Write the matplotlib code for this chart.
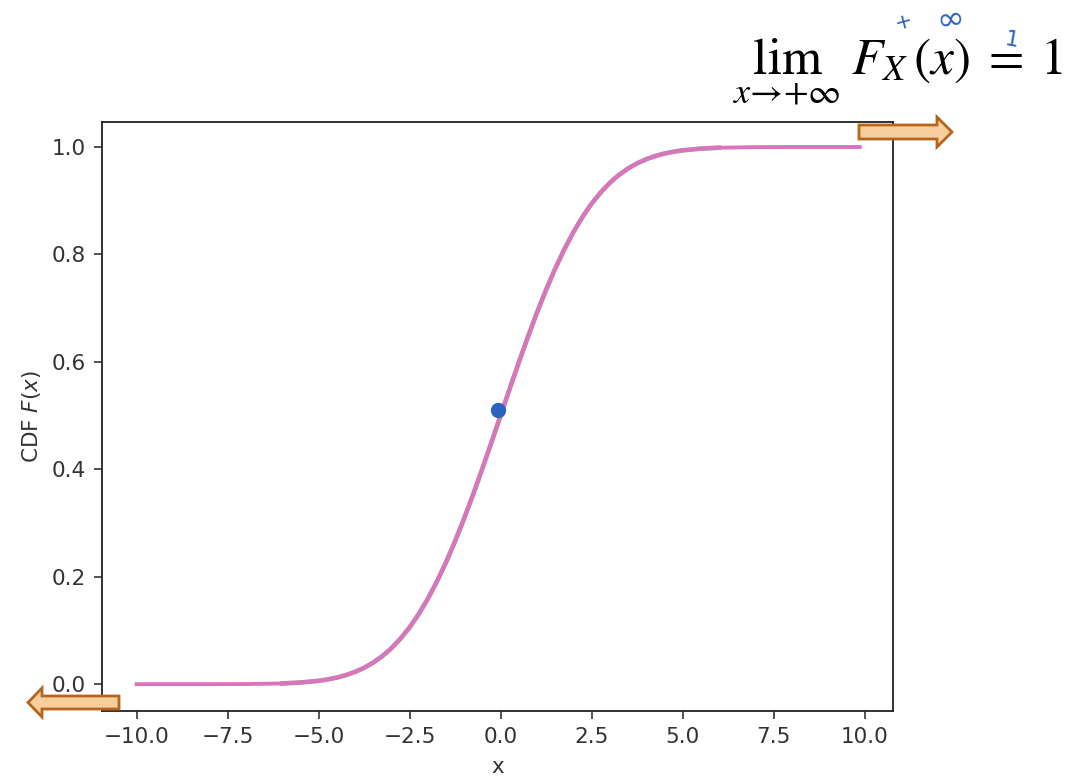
import matplotlib
matplotlib.use("Agg")
import matplotlib.pyplot as plt
from matplotlib.patches import FancyArrow

# CDF values
x_vals = [-10, -9, -8, -7, -6, -5.5, -5, -4.75, -4.5, -4.25, -4, -3.75, -3.5,
          -3.25, -3, -2.75, -2.5, -2.25, -2, -1.75, -1.5, -1.25, -1, -0.75,
          -0.5, -0.25, 0, 0.25, 0.5, 0.75, 1, 1.25, 1.5, 1.75, 2, 2.25, 2.5,
          2.75, 3, 3.25, 3.5, 3.75, 4, 4.25, 4.5, 4.75, 5, 5.5, 6, 7, 8, 9, 9.87]
cdf_vals = [0, 0, 0, 0.0002, 0.0013, 0.003, 0.0062, 0.0088, 0.0122, 0.0168,
            0.0228, 0.0304, 0.0401, 0.0521, 0.0668, 0.0846, 0.1056, 0.1303,
            0.1587, 0.1908, 0.2266, 0.2660, 0.3085, 0.3538, 0.4013, 0.4503,
            0.5, 0.5497, 0.5987, 0.6462, 0.6915, 0.7340, 0.7734, 0.8092,
            0.8413, 0.8697, 0.8944, 0.9154, 0.9332, 0.9479, 0.9599, 0.9696,
            0.9772, 0.9832, 0.9878, 0.9912, 0.9938, 0.997, 0.9987, 0.9998,
            1, 1, 1]
# range covered by the grey (empirical) curve underneath
sample_lo, sample_hi = -6.3, 6.7
# hand-drawn dot
dot_x, dot_y = [-0.08], [0.51]

x_ticks = [-10.0, -7.5, -5.0, -2.5, 0.0, 2.5, 5.0, 7.5, 10.0]
y_ticks = [0.0, 0.2, 0.4, 0.6, 0.8, 1.0]

fig = plt.figure(figsize=(10.83, 7.78), dpi=100)
ax = fig.add_axes([0.0942, 0.0861, 0.7306, 0.7571])

pink = '#dc74bd'
sx = [x for x in x_vals if sample_lo <= x <= sample_hi]
sy = [y for x, y in zip(x_vals, cdf_vals) if sample_lo <= x <= sample_hi]
ax.plot(sx, sy, color='#8a8a8a', lw=3.4, alpha=0.8, zorder=2)
ax.plot(x_vals, cdf_vals, color=pink, lw=2.8, zorder=3)
ax.plot(dot_x, dot_y, 'o', color='#2a62c0', ms=10, zorder=4)

ax.set_xlim(-10.95, 10.79)
ax.set_ylim(-0.05, 1.0466)
ax.set_xticks(x_ticks)
ax.set_yticks(y_ticks)
ax.tick_params(labelsize=15.5, length=5.6, width=1.2, colors='#333333', pad=6)
for s in ax.spines.values():
    s.set_linewidth(1.3)
    s.set_color('#222222')
ax.set_xlabel('x', fontsize=15.5, color='#333333', labelpad=7)
ax.set_ylabel('CDF $F(x)$', fontsize=15.5, color='#333333', labelpad=6,
              math_fontfamily='dejavusans')

# orange arrows (drawn in inches so the shape is not distorted)
arrow_face = '#f8cf9c'
arrow_edge = '#b5651d'
fig.add_artist(FancyArrow(1.19, 0.755, -0.91, 0, width=0.13, head_width=0.29,
                          head_length=0.14, length_includes_head=True,
                          transform=fig.dpi_scale_trans, fc=arrow_face,
                          ec=arrow_edge, lw=2.0, zorder=5))
fig.add_artist(FancyArrow(8.59, 6.46, 0.93, 0, width=0.14, head_width=0.30,
                          head_length=0.15, length_includes_head=True,
                          transform=fig.dpi_scale_trans, fc=arrow_face,
                          ec=arrow_edge, lw=2.0, zorder=5))

# formula at the top
fig.text(733 / 1083, 1 - 74 / 778,
         r'$\lim_{x\to+\infty}\; F_X(x)\; =\; 1$',
         fontsize=37, ha='left', va='baseline', color='black',
         math_fontfamily='stix')

# blue handwriting
blue = '#2a62c0'
fig.text(904 / 1083, 1 - 22 / 778, '+', fontsize=15, color=blue, rotation=15,
         ha='center', va='center')
fig.text(950 / 1083, 1 - 19 / 778, '\u221e', fontsize=24, color=blue,
         rotation=8, ha='center', va='center')
fig.text(1012 / 1083, 1 - 40 / 778, '1', fontsize=16, color=blue, rotation=-10,
         ha='center', va='center')

fig.savefig('out.png', dpi=100)
